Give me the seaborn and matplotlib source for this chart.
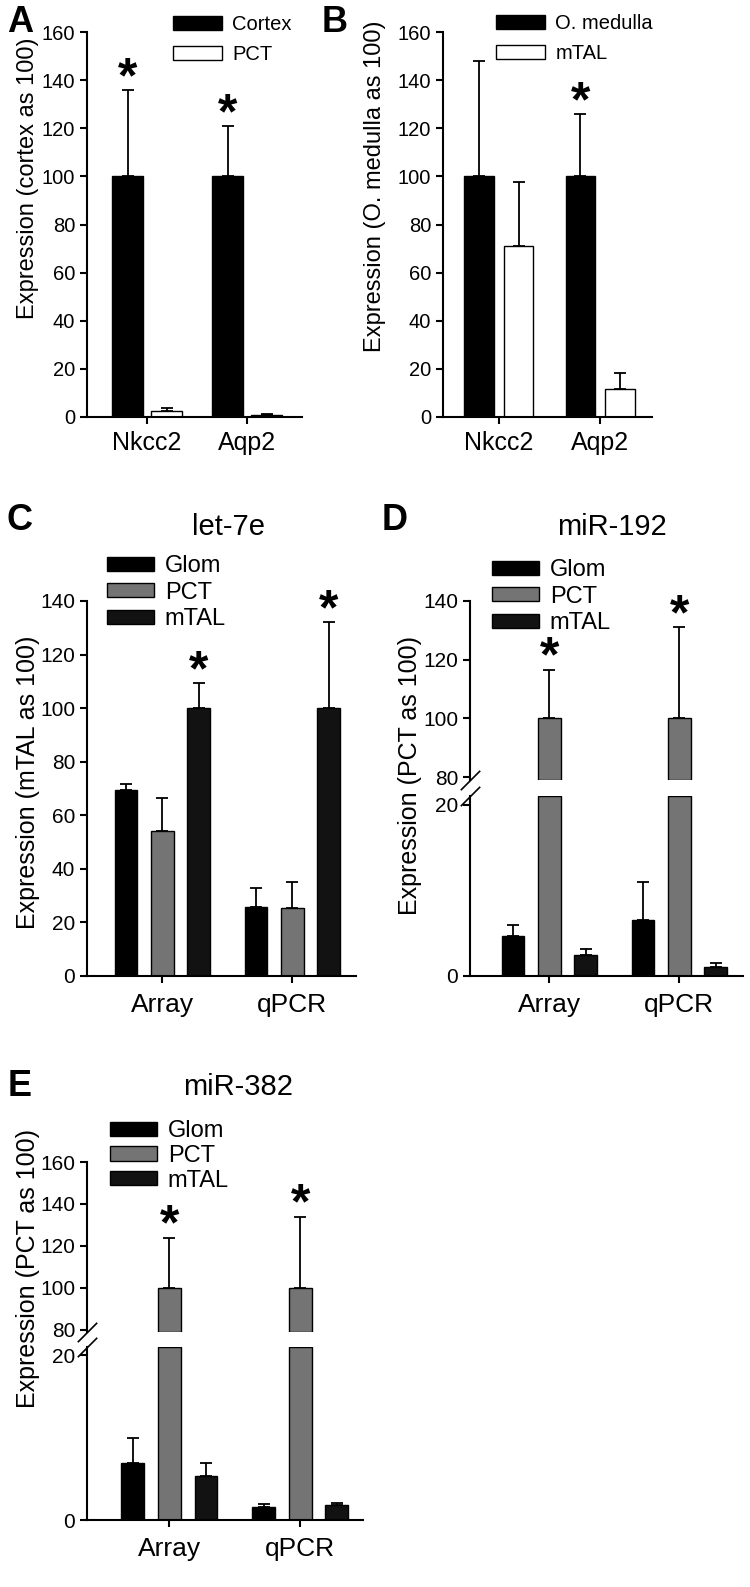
import numpy as np
import pandas as pd
import matplotlib
matplotlib.use("Agg")
import matplotlib.pyplot as plt
import seaborn as sns

# ==================================================
# DATA
# ==================================================

genes = ["Nkcc2", "Aqp2"]
methods = ["Array", "qPCR"]

# panel A (cortex as 100)
a_groups = ["Cortex", "PCT"]
a_cortex = [100, 100]
a_cortex_err = [36, 21]
a_pct = [2.6, 0.7]
a_pct_err = [1.2, 0.4]

# panel B (O. medulla as 100)
b_groups = ["O. medulla", "mTAL"]
b_omed = [100, 100]
b_omed_err = [48, 26]
b_mtal = [71, 11.5]
b_mtal_err = [26.5, 6.8]

seg_groups = ["Glom", "PCT", "mTAL"]

# panel C let-7e (mTAL as 100)
c_glom = [69.3, 25.8]
c_glom_err = [2.2, 7.1]
c_pct = [54.1, 25.2]
c_pct_err = [12.4, 9.8]
c_mtal = [100, 100]
c_mtal_err = [9.4, 32]

# panel D miR-192 (PCT as 100)
d_glom = [4.7, 6.5]
d_glom_err = [1.2, 4.5]
d_pct = [100, 100]
d_pct_err = [16.6, 31]
d_mtal = [2.4, 1.05]
d_mtal_err = [0.8, 0.5]

# panel E miR-382 (PCT as 100)
e_glom = [6.95, 1.6]
e_glom_err = [3.0, 0.35]
e_pct = [100, 100]
e_pct_err = [24, 34]
e_mtal = [5.4, 1.8]
e_mtal_err = [1.5, 0.3]

# ==================================================
# STYLE
# ==================================================

sns.set_style("ticks")
plt.rcParams["font.family"] = ["Liberation Sans", "DejaVu Sans"]
plt.rcParams["axes.linewidth"] = 1.5
for key in ["text.color", "axes.labelcolor", "xtick.color",
            "ytick.color", "axes.edgecolor"]:
    plt.rcParams[key] = "black"

W, H = 750, 1587
fig = plt.figure(figsize=(W / 100, H / 100), dpi=100)


def rect(x0, y0, x1, y1):
    return [x0 / W, 1 - y1 / H, (x1 - x0) / W, (y1 - y0) / H]


def fpos(x, y):
    return x / W, 1 - y / H


def bars(ax, cats, groups, vals, errs, stars, palette, width, gap, xlim,
         ylim, legend=False, star_size=36):
    df = pd.DataFrame({
        "cat": [c for g in groups for c in cats],
        "grp": [g for g in groups for c in cats],
        "val": [v for g in groups for v in vals[g]],
    })
    sns.barplot(
        data=df, x="cat", y="val", hue="grp",
        order=cats, hue_order=groups, palette=palette,
        width=width, gap=gap, saturation=1,
        edgecolor="black", linewidth=1,
        errorbar=None, legend=legend, ax=ax
    )
    lo, hi = ylim
    for cont, g in zip(ax.containers, groups):
        for bar, e, s in zip(cont, errs[g], stars[g]):
            x = bar.get_x() + bar.get_width() / 2
            top = bar.get_height()
            ax.errorbar(x, top, yerr=[[0], [e]], fmt="none", ecolor="black",
                        elinewidth=1.3, capsize=4, capthick=1.3)
            if s:
                ax.annotate("*", xy=(x, top + e), xytext=(0, -1.5),
                            textcoords="offset points", ha="center",
                            va="baseline", fontsize=star_size,
                            fontweight="bold", annotation_clip=False)
            # cut bars at the axis break so their edge shows there
            if top > lo:
                bar.set_y(lo)
                bar.set_height(min(top, hi) - lo)
            else:
                bar.set_visible(False)
    ax.set_xlim(*xlim)
    ax.set_ylim(*ylim)
    ax.set_xlabel("")
    ax.set_ylabel("")
    sns.despine(ax=ax)
    ax.tick_params(direction="out", length=5, width=1.5)


def legend(ax, anchor, fs, hl, hh, pad, spacing):
    handles, labels = ax.get_legend_handles_labels()
    leg = ax.legend(handles, labels, loc="upper left",
                    bbox_to_anchor=fpos(*anchor), bbox_transform=fig.transFigure,
                    frameon=False, borderpad=0, borderaxespad=0, fontsize=fs,
                    handlelength=hl, handleheight=hh, handletextpad=pad,
                    labelspacing=spacing)
    for h in leg.legend_handles:
        h.set_edgecolor("black")
        h.set_linewidth(1)


def break_marks(top, bottom):
    kw = dict(marker=[(-1, -1), (1, 1)], markersize=14, linestyle="none",
              color="k", mec="k", mew=1.2, clip_on=False)
    top.plot([0], [0], transform=top.transAxes, **kw)
    bottom.plot([0], [1], transform=bottom.transAxes, **kw)


seg_palette = {"Glom": "#000000", "PCT": "#747474", "mTAL": "#121212"}

# ==================================================
# PANEL A
# ==================================================

axA = fig.add_axes(rect(87, 32, 302, 417))
bars(axA, genes, a_groups,
     {"Cortex": a_cortex, "PCT": a_pct},
     {"Cortex": a_cortex_err, "PCT": a_pct_err},
     {"Cortex": [True, True], "PCT": [False, False]},
     {"Cortex": "black", "PCT": "white"}, 0.78, 0.22, (-0.6, 1.55), (0, 160),
     legend=True)
axA.set_yticks(range(0, 161, 20))
axA.tick_params(axis="y", labelsize=14.5)
axA.tick_params(axis="x", labelsize=18, pad=5)
legend(axA, (173, 15), 14.5, 2.45, 0.65, 0.5, 0.55)

# ==================================================
# PANEL B
# ==================================================

axB = fig.add_axes(rect(443, 32, 652, 417))
bars(axB, genes, b_groups,
     {"O. medulla": b_omed, "mTAL": b_mtal},
     {"O. medulla": b_omed_err, "mTAL": b_mtal_err},
     {"O. medulla": [False, True], "mTAL": [False, False]},
     {"O. medulla": "black", "mTAL": "white"}, 0.78, 0.25, (-0.55, 1.51),
     (0, 160), legend=True)
axB.set_yticks(range(0, 161, 20))
axB.tick_params(axis="y", labelsize=14.5)
axB.tick_params(axis="x", labelsize=18, pad=5)
legend(axB, (496, 14), 14.5, 2.45, 0.65, 0.5, 0.55)

# ==================================================
# PANEL C
# ==================================================

axC = fig.add_axes(rect(87, 601, 356, 976))
bars(axC, methods, seg_groups,
     {"Glom": c_glom, "PCT": c_pct, "mTAL": c_mtal},
     {"Glom": c_glom_err, "PCT": c_pct_err, "mTAL": c_mtal_err},
     {"Glom": [False, False], "PCT": [False, False], "mTAL": [True, True]},
     seg_palette, 0.84, 0.38, (-0.58, 1.49), (0, 140), legend=True)
axC.set_yticks(range(0, 141, 20))
axC.tick_params(axis="y", labelsize=15)
axC.tick_params(axis="x", labelsize=19, pad=7)
legend(axC, (107, 555), 17, 2.0, 0.55, 0.45, 0.2)

# ==================================================
# PANEL D (broken axis)
# ==================================================

d_vals = {"Glom": d_glom, "PCT": d_pct, "mTAL": d_mtal}
d_errs = {"Glom": d_glom_err, "PCT": d_pct_err, "mTAL": d_mtal_err}
d_stars = {"Glom": [False, False], "PCT": [True, True], "mTAL": [False, False]}

axDt = fig.add_axes(rect(470, 601, 743, 780))
axDb = fig.add_axes(rect(470, 796, 743, 976))
bars(axDt, methods, seg_groups, d_vals, d_errs, d_stars, seg_palette,
     0.84, 0.38, (-0.61, 1.49), (79, 140), legend=True)
bars(axDb, methods, seg_groups, d_vals, d_errs,
     {g: [False, False] for g in seg_groups}, seg_palette,
     0.84, 0.38, (-0.61, 1.49), (0, 21))
axDt.set_yticks(range(80, 141, 20))
axDt.spines["bottom"].set_visible(False)
axDt.tick_params(axis="x", bottom=False, labelbottom=False)
axDt.tick_params(axis="y", labelsize=15)
axDb.set_yticks([0, 20])
axDb.tick_params(axis="y", labelsize=15)
axDb.tick_params(axis="x", labelsize=19, pad=7)
break_marks(axDt, axDb)
legend(axDt, (492, 559), 17, 2.0, 0.55, 0.45, 0.2)

# ==================================================
# PANEL E (broken axis)
# ==================================================

e_vals = {"Glom": e_glom, "PCT": e_pct, "mTAL": e_mtal}
e_errs = {"Glom": e_glom_err, "PCT": e_pct_err, "mTAL": e_mtal_err}
e_stars = {"Glom": [False, False], "PCT": [True, True], "mTAL": [False, False]}

axEt = fig.add_axes(rect(87, 1162, 363, 1332))
axEb = fig.add_axes(rect(87, 1347, 363, 1520))
bars(axEt, methods, seg_groups, e_vals, e_errs, e_stars, seg_palette,
     0.84, 0.38, (-0.63, 1.48), (79, 160), legend=True)
bars(axEb, methods, seg_groups, e_vals, e_errs,
     {g: [False, False] for g in seg_groups}, seg_palette,
     0.84, 0.38, (-0.63, 1.48), (0, 21))
axEt.set_yticks(range(80, 161, 20))
axEt.spines["bottom"].set_visible(False)
axEt.tick_params(axis="x", bottom=False, labelbottom=False)
axEt.tick_params(axis="y", labelsize=15)
axEb.set_yticks([0, 20])
axEb.tick_params(axis="y", labelsize=15)
axEb.tick_params(axis="x", labelsize=19, pad=7)
break_marks(axEt, axEb)
legend(axEt, (110, 1120), 17, 2.0, 0.55, 0.45, 0.12)

# ==================================================
# TEXT
# ==================================================

ylabels = [
    ((28, 178), "Expression (cortex as 100)", 17),
    ((375, 186), "Expression (O. medulla as 100)", 17),
    ((28, 782), "Expression (mTAL as 100)", 18),
    ((410, 776), "Expression (PCT as 100)", 18),
    ((28, 1268), "Expression (PCT as 100)", 18),
]
for (x, y), text, fs in ylabels:
    fig.text(*fpos(x, y), text, rotation=90, ha="center", va="center", fontsize=fs)

titles = [((228, 527), "let-7e"), ((612, 527), "miR-192"), ((238, 1087), "miR-382")]
for (x, y), text in titles:
    fig.text(*fpos(x, y), text, ha="center", va="center", fontsize=21)

letters = [((20, 22), "A"), ((335, 22), "B"), ((20, 521), "C"),
           ((395, 521), "D"), ((20, 1086), "E")]
for (x, y), text in letters:
    fig.text(*fpos(x, y), text, ha="center", va="center", fontsize=26,
             fontweight="bold")

fig.savefig("out.png", dpi=100)
